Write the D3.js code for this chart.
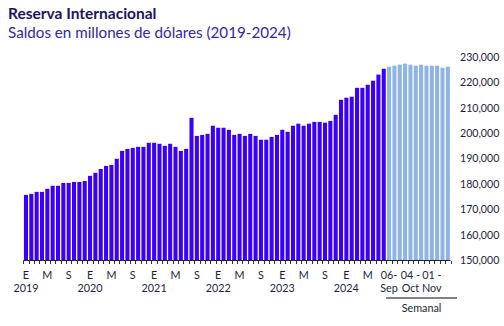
<!DOCTYPE html>
<html><head><meta charset="utf-8">
<script src="https://cdn.jsdelivr.net/npm/d3@7"></script>
<style>
body{margin:0;background:#fff;}
svg{display:block;font-family:Lato,"Open Sans",sans-serif;}
</style>
</head><body>
<svg id="c" width="504" height="326"></svg>
<script>
// ---- data ----
const years = ["2019","2020","2021","2022","2023","2024"];
const monthInitials = ["E","F","M","A","M","J","J","A","S","O","N","D"];
const labeledMonths = [0, 4, 8]; // E, M, S
const monthlyValues = [
  175.7,176.1,176.9,176.9,178.1,179.3,179.3,180.4,180.4,180.8,180.8,181.2,
  183.2,184.4,185.9,187.1,187.5,189.9,193.0,193.8,194.2,194.6,194.6,196.2,
  196.2,195.8,195.0,195.8,194.6,193.0,193.8,206.0,198.9,199.3,199.7,202.9,
  202.1,202.1,201.3,199.3,199.7,198.9,199.7,198.9,197.4,197.4,198.5,199.3,
  201.3,200.5,202.9,203.7,202.9,203.7,204.4,204.4,204.1,204.8,207.2,213.1,
  213.9,214.3,217.8,217.8,219.0,220.6,223.0,225.3
].map(v => v * 1000);
const weeklyDates = ["06-Sep","13-Sep","20-Sep","27-Sep","04-Oct","11-Oct","18-Oct","25-Oct","01-Nov","08-Nov","15-Nov","22-Nov"];
const weeklyValues = [226.1,226.5,226.9,227.3,226.9,226.5,226.9,226.5,226.5,226.5,225.7,226.1].map(v => v * 1000);
const weeklyTickLabels = {"06-Sep":["06-","Sep"],"04-Oct":["04 -","Oct"],"01-Nov":["01 -","Nov"]};
const yTicks = [150000,160000,170000,180000,190000,200000,210000,220000,230000];
const titleText = "Reserva Internacional";
const subtitleText = "Saldos en millones de dólares (2019-2024)";
const weeklyGroupLabel = "Semanal";

// ---- build rows ----
const monthlyRows = monthlyValues.map((v, i) => ({
  key: "m" + i, value: v, type: "m",
  year: years[Math.floor(i / 12)], month: i % 12
}));
const weeklyRows = weeklyValues.map((v, i) => ({key: "w" + i, value: v, type: "w", date: weeklyDates[i]}));
const rows = monthlyRows.concat(weeklyRows);

const svg = d3.select("#c");
const textColor = "#1e1e3c";

const pi = 0.24;
const x = d3.scaleBand().domain(rows.map(d => d.key)).range([23.3, 450.5]).paddingInner(pi).paddingOuter(pi / 2);
const y = d3.scaleLinear().domain([150000, 230000]).range([260.3, 56.8]);

// bars
svg.append("g").selectAll("rect").data(rows).join("rect")
  .attr("x", d => x(d.key))
  .attr("width", x.bandwidth())
  .attr("y", d => y(d.value))
  .attr("height", d => y(150000) - y(d.value))
  .attr("fill", d => d.type === "m" ? "#3a00fb" : "#8db4e2");

// x axis line & ticks at band boundaries
const step = x.step();
const boundaries = rows.map(d => x(d.key) - step * pi / 2).concat([x(rows[rows.length - 1].key) + x.bandwidth() + step * pi / 2]);
const ax = svg.append("g");
ax.append("line").attr("x1", boundaries[0]).attr("x2", boundaries[boundaries.length - 1])
  .attr("y1", 260.5).attr("y2", 260.5).attr("stroke", "#222").attr("stroke-width", 1);
ax.selectAll("line.t").data(boundaries).join("line").attr("class", "t")
  .attr("x1", d => Math.round(d) + 0.5).attr("x2", d => Math.round(d) + 0.5)
  .attr("y1", 261).attr("y2", 264).attr("stroke", "#333").attr("stroke-width", 1);

// month labels
const cx = d => x(d.key) + x.bandwidth() / 2;
const fs = 10.8;
const mlab = monthlyRows.filter(d => labeledMonths.includes(d.month));
svg.append("g").selectAll("text").data(mlab).join("text")
  .attr("x", cx).attr("y", 279).attr("text-anchor", "middle")
  .attr("font-size", fs).attr("fill", textColor)
  .text(d => monthInitials[d.month]);
svg.append("g").selectAll("text").data(monthlyRows.filter(d => d.month === 0)).join("text")
  .attr("x", cx).attr("y", 292).attr("text-anchor", "middle")
  .attr("font-size", fs).attr("fill", textColor)
  .text(d => d.year);

// weekly labels
const wl = weeklyRows.filter(d => weeklyTickLabels[d.date]);
svg.append("g").selectAll("text").data(wl).join("text")
  .attr("x", cx).attr("y", 279).attr("text-anchor", "middle")
  .attr("font-size", fs).attr("fill", textColor)
  .text(d => weeklyTickLabels[d.date][0]);
svg.append("g").selectAll("text").data(wl).join("text")
  .attr("x", cx).attr("y", 292).attr("text-anchor", "middle")
  .attr("font-size", fs).attr("fill", textColor)
  .text(d => weeklyTickLabels[d.date][1]);

// semanal group
const wStart = x(weeklyRows[0].key) - 1;
svg.append("line").attr("x1", wStart).attr("x2", 457).attr("y1", 298).attr("y2", 298)
  .attr("stroke", "#5a5a5a").attr("stroke-width", 1.5);
svg.append("text").attr("x", (wStart + 457) / 2).attr("y", 312).attr("text-anchor", "middle")
  .attr("font-size", fs).attr("fill", textColor).text(weeklyGroupLabel);

// y axis on right
const yAxis = d3.axisRight(y).tickValues(yTicks).tickSize(0).tickPadding(3).tickFormat(d3.format(","));
const ya = svg.append("g").attr("transform", "translate(457,0)").call(yAxis);
ya.select(".domain").remove();
ya.selectAll("text").attr("font-size", 10.6).attr("fill", textColor).attr("font-family", "Lato,'Open Sans',sans-serif");

// titles
svg.append("text").attr("x", 8).attr("y", 18.5).attr("font-size", 15.5).attr("font-weight", "bold")
  .attr("fill", "#1b1466").text(titleText);
svg.append("text").attr("x", 8).attr("y", 37.5).attr("font-size", 15.2)
  .attr("fill", "#2f27a8").text(subtitleText);
</script>
</body></html>
